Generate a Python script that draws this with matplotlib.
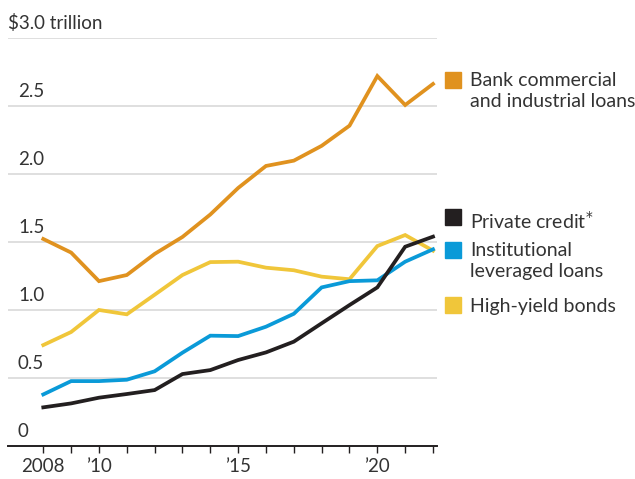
import matplotlib
matplotlib.use("Agg")
import matplotlib.pyplot as plt
from matplotlib.patches import Rectangle
from matplotlib.transforms import blended_transform_factory

plt.rcParams['font.family'] = ['Lato', 'DejaVu Sans']

# annual outstanding amounts, trillions of dollars
years = list(range(2008, 2023))
bank_ci = [1.52, 1.42, 1.21, 1.255, 1.41, 1.535, 1.70, 1.895, 2.057, 2.096,
           2.205, 2.353, 2.718, 2.505, 2.66]
high_yield = [0.74, 0.836, 0.998, 0.966, 1.11, 1.255, 1.35, 1.353, 1.309, 1.29,
              1.243, 1.224, 1.468, 1.549, 1.434]
lev_loans = [0.377, 0.475, 0.475, 0.485, 0.547, 0.684, 0.809, 0.806, 0.875, 0.97,
             1.164, 1.21, 1.216, 1.353, 1.444]
private_credit = [0.282, 0.311, 0.353, 0.38, 0.409, 0.527, 0.556, 0.63, 0.686, 0.765,
                  0.90, 1.034, 1.164, 1.463, 1.537]

y_ticks = [0, 0.5, 1.0, 1.5, 2.0, 2.5, 3.0]
y_labels = ['0', '0.5', '1.0', '1.5', '2.0', '2.5', '$3.0 trillion']
x_ticks = [2008, 2010, 2015, 2020]
x_labels = ['2008', '\u201910', '\u201915', '\u201920']

series_names = ['Bank commercial\nand industrial loans', 'Private credit$^{*}$',
                'Institutional\nleveraged loans', 'High-yield bonds']

ORANGE = '#e0921f'
YELLOW = '#f0c63a'
BLUE = '#0a9ad8'
BLACK = '#231f20'
TEXT = '#333333'

W, H = 635, 479
fig = plt.figure(figsize=(W / 100, H / 100), dpi=100)
ax = fig.add_axes([8 / W, 1 - 445.7 / H, (437 - 8) / W, (445.7 - 37.7) / H])

# gridlines first so the series sit on top
for t in y_ticks[1:]:
    ax.axhline(t, color='#dcdcdc', lw=1.3, zorder=1)

lw = 2.7
ax.plot(years, high_yield, color=YELLOW, lw=lw, zorder=3, solid_joinstyle='miter')
ax.plot(years, bank_ci, color=ORANGE, lw=lw, zorder=3, solid_joinstyle='miter')
ax.plot(years, lev_loans, color=BLUE, lw=lw, zorder=4, solid_joinstyle='miter')
ax.plot(years, private_credit, color=BLACK, lw=lw, zorder=5, solid_joinstyle='miter')

ax.set_xlim(2008 - 35.3 / 27.84, 2022 + 4 / 27.84)
ax.set_ylim(0, 3.0)

for s in ['top', 'right', 'left']:
    ax.spines[s].set_visible(False)
ax.spines['bottom'].set_color(BLACK)
ax.spines['bottom'].set_linewidth(1.4)

ax.set_yticks([])
ax.set_xticks(years, minor=True)
ax.set_xticks(x_ticks)
ax.set_xticklabels(x_labels, fontsize=13.5, color=TEXT)
ax.tick_params(axis='x', which='both', direction='out', length=5, width=1,
               color=BLACK, pad=4)

# value labels sit just above their gridlines
trans = blended_transform_factory(ax.transAxes, ax.transData)
for t, lab in zip(y_ticks, y_labels):
    x = 0.0 if t == 3.0 else 10 / 429
    ax.text(x, t + 0.045, lab, transform=trans, ha='left', va='bottom',
            fontsize=13.5, color=TEXT)

# legend blocks on the right
legend_items = [
    (series_names[0], ORANGE, 71.5),
    (series_names[1], BLACK, 209),
    (series_names[2], BLUE, 241.5),
    (series_names[3], YELLOW, 297),
]
for label, color, top in legend_items:
    fig.add_artist(Rectangle((445 / W, 1 - (top + 16) / H), 16 / W, 16 / H,
                             transform=fig.transFigure, color=color))
    fig.text(470 / W, 1 - (top + 1) / H, label, ha='left', va='top',
             fontsize=14, color=TEXT, linespacing=1.25)

fig.savefig('out.png', dpi=100)
